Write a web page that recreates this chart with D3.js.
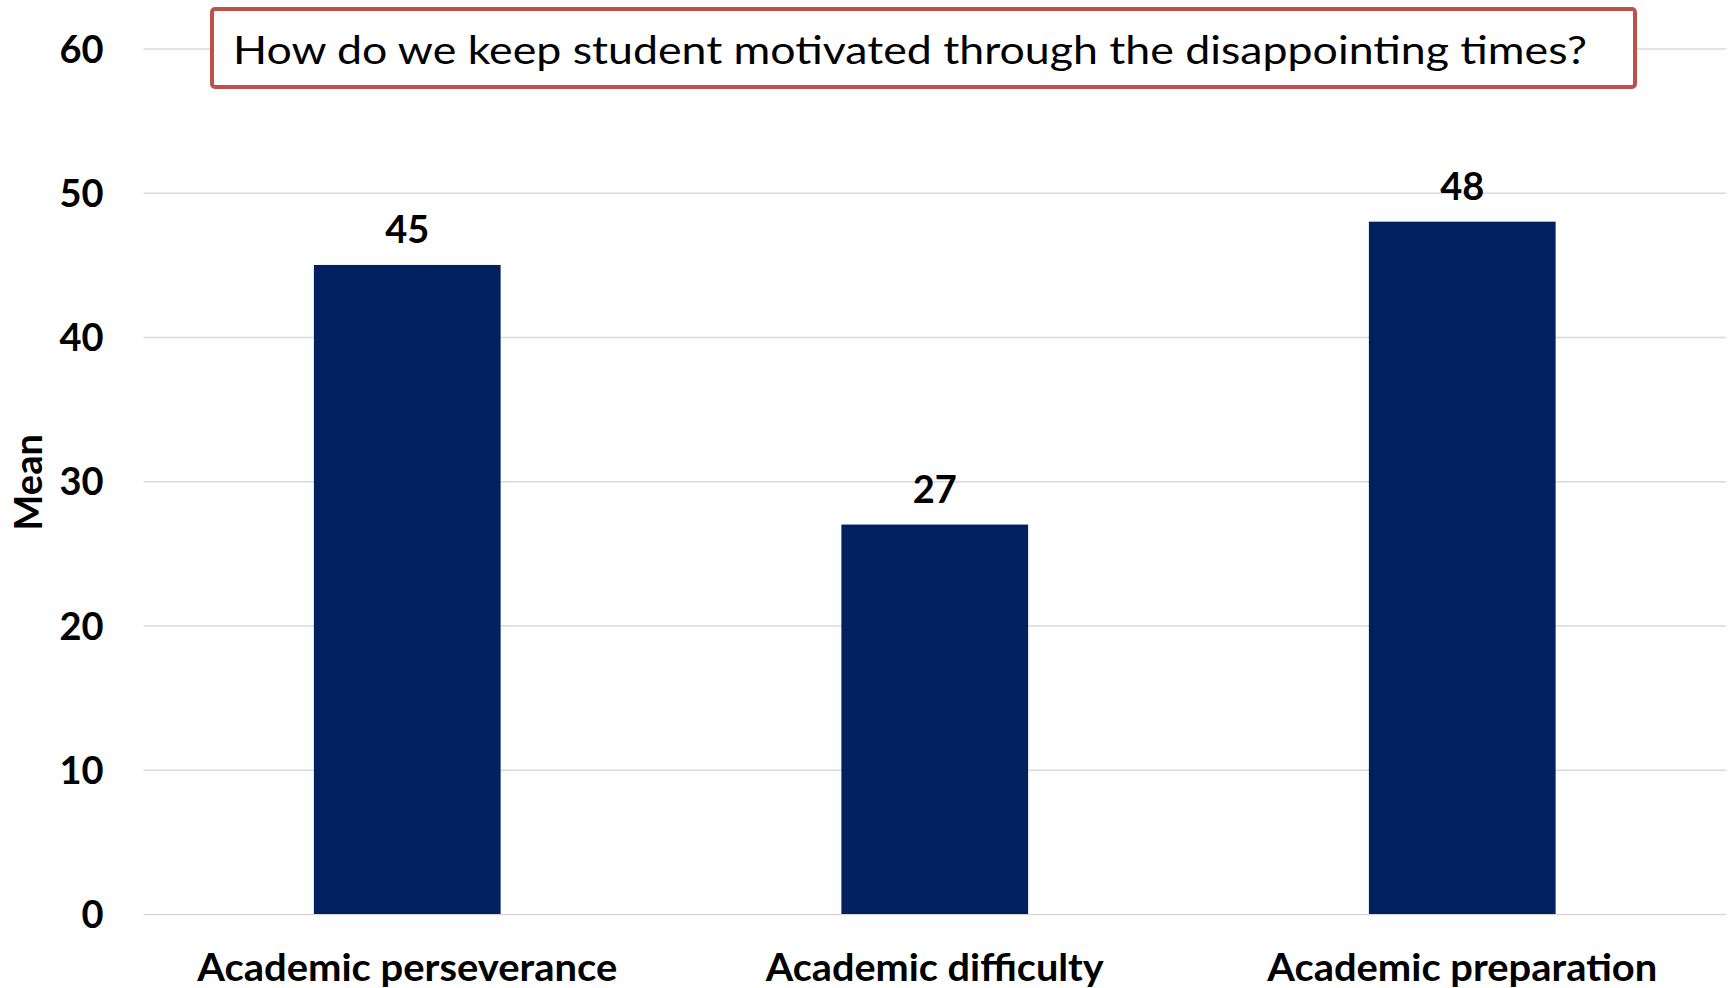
<!DOCTYPE html>
<html>
<head>
<meta charset="utf-8">
<script src="https://cdn.jsdelivr.net/npm/d3@7"></script>
<style>
  html, body { margin: 0; padding: 0; background: #fff; }
  svg { display: block; }
  text { font-family: Lato, "Open Sans", sans-serif; }
</style>
</head>
<body>
<svg id="chart" width="1731" height="988"></svg>
<script>
const categories = ["Academic perseverance", "Academic difficulty", "Academic preparation"];
const values = [45, 27, 48];
const yTicks = [0, 10, 20, 30, 40, 50, 60];
const yLabel = "Mean";
const title = "How do we keep student motivated through the disappointing times?";

const W = 1731, H = 988;
const m = { left: 143.5, right: 1726, top: 48.6, bottom: 914 };
const svg = d3.select("#chart");

const x = d3.scaleBand().domain(categories).range([m.left, m.right])
  .paddingInner(0.646).paddingOuter(0.323);
const y = d3.scaleLinear().domain([0, 60]).range([m.bottom, m.top]);

// gridlines
const yAxis = d3.axisLeft(y).tickValues(yTicks).tickSize(-(m.right - m.left)).tickPadding(40).tickFormat(d3.format("d"));
const gy = svg.append("g").attr("transform", `translate(${m.left},0)`).call(yAxis);
gy.select(".domain").remove();
gy.selectAll(".tick line").attr("stroke", "#D9D9D9").attr("stroke-width", 1.5);
gy.selectAll(".tick text")
  .attr("fill", "#000").attr("font-size", 38).attr("font-weight", 700)
  .attr("dy", "0.36em").attr("font-family", "Lato, 'Open Sans', sans-serif");

// bars
svg.append("g").selectAll("rect").data(values).join("rect")
  .attr("x", (d, i) => x(categories[i]))
  .attr("y", d => y(d))
  .attr("width", x.bandwidth())
  .attr("height", d => y(0) - y(d))
  .attr("fill", "#002060");

// value labels
svg.append("g").selectAll("text").data(values).join("text")
  .attr("x", (d, i) => x(categories[i]) + x.bandwidth() / 2)
  .attr("y", d => y(d) - 22)
  .attr("text-anchor", "middle")
  .attr("font-size", 38).attr("font-weight", 700).attr("fill", "#000")
  .text(d => d);

// category labels
const catWidths = [420, 338, 390];
svg.append("g").selectAll("text").data(categories).join("text")
  .attr("x", d => x(d) + x.bandwidth() / 2)
  .attr("y", 981)
  .attr("text-anchor", "middle")
  .attr("font-size", 38).attr("font-weight", 700).attr("fill", "#000")
  .attr("textLength", (d, i) => catWidths[i])
  .attr("lengthAdjust", "spacingAndGlyphs")
  .text(d => d);

// y axis title
svg.append("text")
  .attr("transform", `translate(42, ${(m.top + m.bottom) / 2 + 1}) rotate(-90)`)
  .attr("text-anchor", "middle")
  .attr("font-size", 38).attr("font-weight", 700).attr("fill", "#000")
  .text(yLabel);

// title box
const tb = svg.append("g");
tb.append("rect")
  .attr("x", 212).attr("y", 9).attr("width", 1423).attr("height", 78)
  .attr("rx", 3).attr("fill", "#fff").attr("stroke", "#C0504D").attr("stroke-width", 4);
tb.append("text")
  .attr("x", 233).attr("y", 64)
  .attr("font-size", 39).attr("fill", "#000")
  .attr("textLength", 1354).attr("lengthAdjust", "spacingAndGlyphs")
  .text(title);
</script>
</body>
</html>
